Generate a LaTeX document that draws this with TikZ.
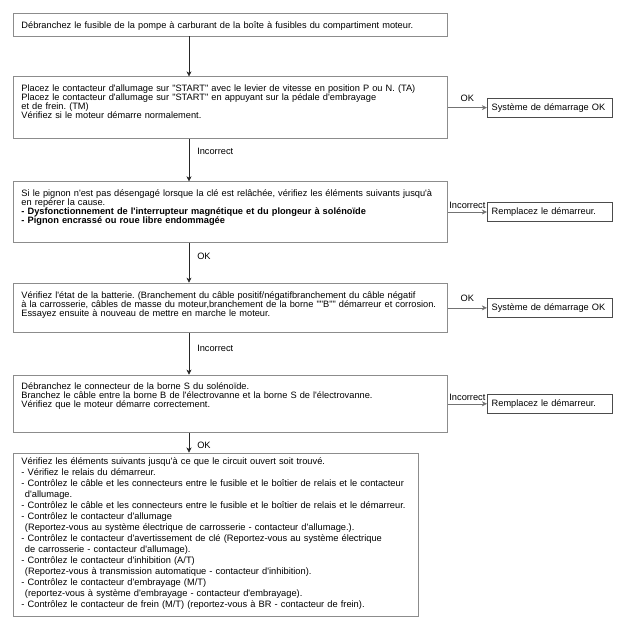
\documentclass[tikz,border=0pt]{standalone}
\usepackage{fontspec}
\newfontfamily\diagfont{Liberation Sans}
\usepackage{tikz}
\usetikzlibrary{arrows.meta,positioning}
\newcommand\flowfont{\diagfont\fontsize{9.25}{9}\selectfont}
\newcommand\listfont{\diagfont\fontsize{9.3}{11}\selectfont}
\lineskiplimit=-20pt
\frenchspacing

\begin{document}
\begin{tikzpicture}[
  font=\flowfont,
  stepbox/.style={draw=black!45, line width=0.9pt, align=left, anchor=north west,
    inner xsep=8pt, inner ysep=0pt, text width=418pt, text height=15pt},
  listbox/.style={stepbox, text width=389pt, text height=12pt, font=\listfont},
  endbox/.style={draw=black!70, line width=0.6pt, align=left, inner xsep=4.5pt,
    inner ysep=0pt, text width=116pt, minimum height=19pt},
  lbl/.style={right=7pt, inner sep=1pt},
  slbl/.style={above=2pt, inner sep=1pt},
  a/.style={-{Stealth[length=5pt,width=5pt,inset=1.5pt]}, draw=black!85, line width=0.5pt},
  sa/.style={a, draw=black!55}]
\useasboundingbox (0,0) rectangle (622pt,-619pt);
\coordinate (spine) at (189pt,0pt);
\node[stepbox, text depth=7.5pt] (fuse) at (13pt,-13pt)
  {Débranchez le fusible de la pompe à carburant de la boîte à fusibles du compartiment moteur.};
\node[stepbox, text depth=46.5pt, below=40pt of fuse.south west, anchor=north west] (start)
  {Placez le contacteur d'allumage sur "START" avec le levier de vitesse en position P ou N. (TA)\\
   Placez le contacteur d'allumage sur "START" en appuyant sur la pédale d'embrayage\\
   et de frein. (TM)\\
   Vérifiez si le moteur démarre normalement.};
\node[stepbox, text depth=45.5pt, below=42.5pt of start.south west, anchor=north west] (pinion)
  {Si le pignon n'est pas désengagé lorsque la clé est relâchée, vérifiez les éléments suivants jusqu'à\\
   en repérer la cause.\\
   \textbf{- Dysfonctionnement de l'interrupteur magnétique et du plongeur à solénoïde}\\
   \textbf{- Pignon encrassé ou roue libre endommagée}};
\node[stepbox, text depth=34.5pt, below=40pt of pinion.south west, anchor=north west] (battery)
  {Vérifiez l'état de la batterie. (Branchement du câble positif/négatifbranchement du câble négatif\\
   à la carrosserie, câbles de masse du moteur,branchement de la borne ""B"" démarreur et corrosion.\\
   Essayez ensuite à nouveau de mettre en marche le moteur.};
\node[stepbox, text height=14pt, text depth=43.5pt, below=41.5pt of battery.south west, anchor=north west] (solenoid)
  {Débranchez le connecteur de la borne S du solénoïde.\\
   Branchez le câble entre la borne B de l'électrovanne et la borne S de l'électrovanne.\\
   Vérifiez que le moteur démarre correctement.};
\node[listbox, text depth=151pt, below=19.5pt of solenoid.south west, anchor=north west] (circuit)
  {Vérifiez les éléments suivants jusqu'à ce que le circuit ouvert soit trouvé.\\
   - Vérifiez le relais du démarreur.\\
   - Contrôlez le câble et les connecteurs entre le fusible et le boîtier de relais et le contacteur\\
   \hspace*{3.5pt}d'allumage.\\
   - Contrôlez le câble et les connecteurs entre le fusible et le boîtier de relais et le démarreur.\\
   - Contrôlez le contacteur d'allumage\\
   \hspace*{3.5pt}(Reportez-vous au système électrique de carrosserie - contacteur d'allumage.).\\
   - Contrôlez le contacteur d'avertissement de clé (Reportez-vous au système électrique\\
   \hspace*{3.5pt}de carrosserie - contacteur d'allumage).\\
   - Contrôlez le contacteur d'inhibition (A/T)\\
   \hspace*{3.5pt}(Reportez-vous à transmission automatique - contacteur d'inhibition).\\
   - Contrôlez le contacteur d'embrayage (M/T)\\
   \hspace*{3.5pt}(reportez-vous à système d'embrayage - contacteur d'embrayage).\\
   - Contrôlez le contacteur de frein (M/T) (reportez-vous à BR - contacteur de frein).};
% side results
\node[endbox, right=39pt of start] (okstart) {Système de démarrage OK};
\node[endbox, right=39pt of pinion] (replpinion) {Remplacez le démarreur.};
\node[endbox, right=39pt of battery] (okbattery) {Système de démarrage OK};
\node[endbox, right=39pt of solenoid] (replsolenoid) {Remplacez le démarreur.};
% main flow
\draw[a] (fuse.south -| spine) -- (start.north -| spine);
\draw[a] (start.south -| spine) -- node[lbl, pos=0.3]{Incorrect} (pinion.north -| spine);
\draw[a] (pinion.south -| spine) -- node[lbl, pos=0.33]{OK} (battery.north -| spine);
\draw[a] (battery.south -| spine) -- node[lbl, pos=0.36]{Incorrect} (solenoid.north -| spine);
\draw[a] (solenoid.south -| spine) -- node[lbl, pos=0.65]{OK} (circuit.north -| spine);
\draw[sa] (start) -- node[slbl, above=5pt]{OK} (okstart);
\draw[sa] (pinion) -- node[slbl]{Incorrect} (replpinion);
\draw[sa] (battery) -- node[slbl, above=5pt]{OK} (okbattery);
\draw[sa] (solenoid) -- node[slbl]{Incorrect} (replsolenoid);
\end{tikzpicture}
\end{document}
